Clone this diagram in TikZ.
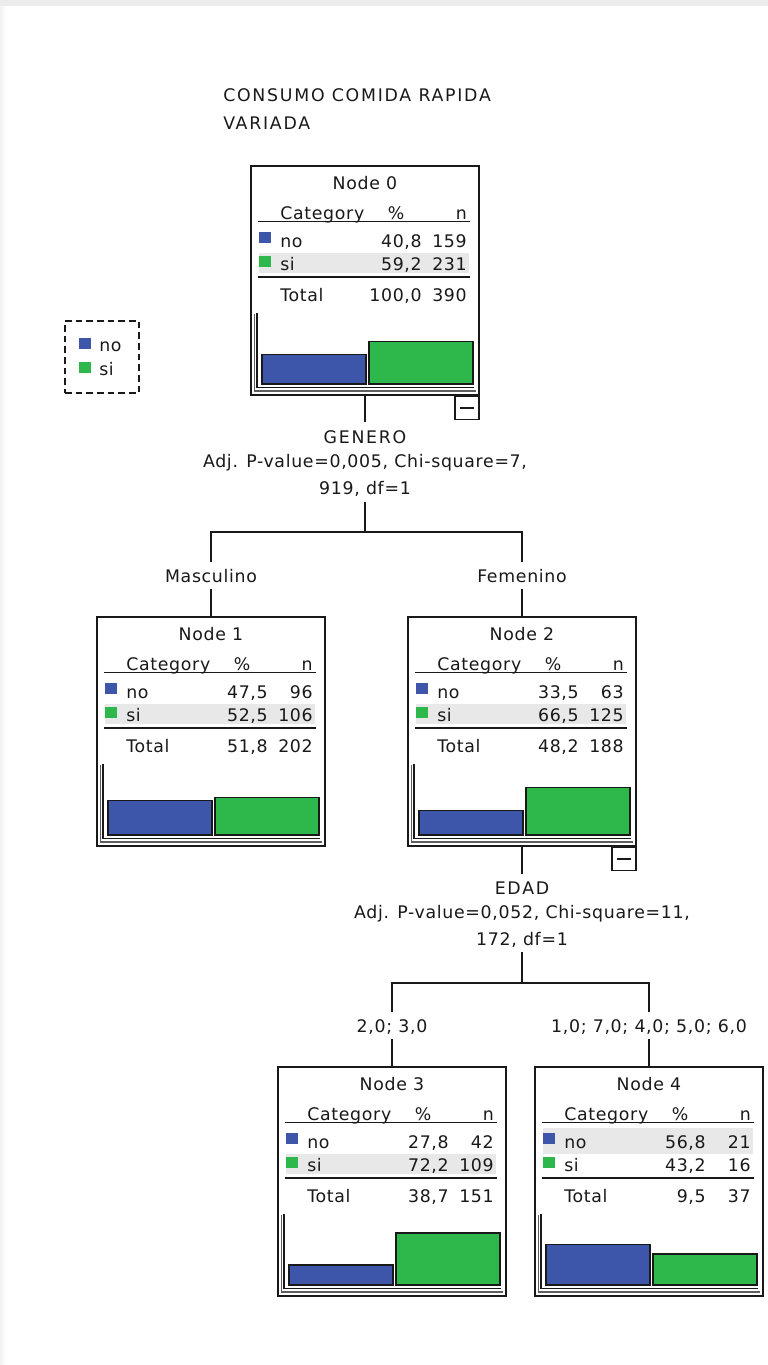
\documentclass[tikz,border=0pt]{standalone}
\usepackage{fontspec}
\newfontfamily\uifont[LetterSpace=4]{DejaVu Sans}
\newfontfamily\capfont[LetterSpace=10]{DejaVu Sans}
\definecolor{cblue}{RGB}{61,86,170}
\definecolor{cgreen}{RGB}{46,184,76}
\definecolor{hlgray}{RGB}{232,232,232}
\definecolor{ink}{RGB}{25,25,25}
\pgfkeys{/pgf/number format/.cd, assume math mode=true, fixed, fixed zerofill, precision=1, use comma}
\tikzset{
  txt/.style={inner sep=0pt, text=ink, font=\fontsize{13pt}{18pt}\selectfont\uifont},
  nodebox/.style={draw=ink, line width=1.1pt, minimum width=171pt, minimum height=171.75pt, inner sep=0pt},
  rule/.style={draw=ink, line width=1.1pt},
  conn/.style={draw=ink, line width=1.1pt},
  bar/.style={draw=ink, line width=0.9pt},
  swatch/.style={inner sep=0pt, minimum width=9pt, minimum height=8.25pt},
  minusbox/.style={draw=ink, line width=1.1pt, minimum width=18pt, minimum height=17.25pt, inner sep=0pt},
  lbl/.style={txt, inner ysep=5.25pt, text height=9.5pt, text depth=0pt},
  legendbox/.style={draw=ink, dash pattern=on 5pt off 3pt, line width=0.9pt, minimum width=55.5pt, minimum height=54pt, inner sep=0pt},
}
% #1 name, #2 X,Y, #3 number, #4 pct no, #5 n no, #6 pct si, #7 n si, #8 pct total, #9 highlighted row
\newcommand{\cartnode}[9]{%
\begin{scope}[shift={(#2)}]
  \ifnum#9=1\relax
    \fill[hlgray] (8,61) rectangle (218,87);
  \else
    \fill[hlgray] (8,87) rectangle (218,107);
  \fi
  \node[nodebox] (#1) at (114,114.5) {};
  \node[txt, anchor=base] (#1t) at (114,23) {Node #3};
  \node[txt, anchor=base west] (#1ha) at (29,53) {Category};
  \node[txt, anchor=base] (#1hb) at (145,53) {\%};
  \node[txt, anchor=base east] (#1hc) at (216,53) {n};
  \draw[rule] (7,55.5) -- (219,55.5);
  \node[swatch, fill=cblue] (#1sa) at (14,71.5) {};
  \node[swatch, fill=cgreen] (#1sb) at (14,95.5) {};
  \node[txt, anchor=base west] (#1la) at (29,81) {no};
  \node[txt, anchor=base west] (#1lb) at (29,104) {si};
  \node[txt, anchor=base east] (#1pa) at (171,81) {\pgfmathprintnumber{#4}};
  \node[txt, anchor=base east] (#1pb) at (171,104) {\pgfmathprintnumber{#6}};
  \node[txt, anchor=base east] (#1na) at (216,81) {#5};
  \node[txt, anchor=base east] (#1nb) at (216,104) {#7};
  \draw[rule] (7,111) -- (219,111);
  \pgfmathtruncatemacro\ntot{#5+#7}
  \node[txt, anchor=base west] (#1lt) at (29,135.5) {Total};
  \node[txt, anchor=base east] (#1pt) at (171,135.5) {\pgfmathprintnumber{#8}};
  \node[txt, anchor=base east] (#1nt) at (216,135.5) {\ntot};
  \draw[bar, fill=cblue] (11,{218-0.72*#4}) rectangle (115,218);
  \draw[bar, fill=cgreen] (118,{218-0.72*#6}) rectangle (222,218);
  \draw[ink, line width=0.9pt] (6,147) -- (6,221.5) -- (223,221.5);
  \draw[ink!70, line width=0.8pt] (3.5,148) -- (3.5,225) -- (225,225);
\end{scope}}

\begin{document}
\begin{tikzpicture}[x=0.75pt,y=-0.75pt]
\useasboundingbox (0,0) rectangle (768,1365);
\fill[gray!15] (0,0) rectangle (768,1365);
\shade[left color=gray!10, right color=white] (0,6) rectangle (6,1365);
\fill[white] (6,6) rectangle (768,1365);

% title
\node[txt, anchor=north west, align=left, font=\fontsize{13pt}{21pt}\selectfont\capfont] (title) at (223,88.4) {CONSUMO COMIDA RAPIDA\\VARIADA};

% legend
\node[legendbox] (legend) at (102,357) {};
\node[swatch, fill=cblue] (lgsa) at (85,343.5) {};
\node[swatch, fill=cgreen] (lgsb) at (85,367) {};
\node[txt, anchor=base west] (lgla) at (99,351) {no};
\node[txt, anchor=base west] (lglb) at (99,375) {si};

% tree nodes
\cartnode{n0}{251,166}{0}{40.8}{159}{59.2}{231}{100.0}{2}
\cartnode{n1}{97,617}{1}{47.5}{96}{52.5}{106}{51.8}{2}
\cartnode{n2}{408,617}{2}{33.5}{63}{66.5}{125}{48.2}{2}
\cartnode{n3}{278,1067}{3}{27.8}{42}{72.2}{109}{38.7}{2}
\cartnode{n4}{535,1067}{4}{56.8}{21}{43.2}{16}{9.5}{1}

% collapse boxes
\node[minusbox, anchor=north east] (m0) at (n0.south east) {};
\draw[rule] ([xshift=-5.25pt]m0.center) -- ([xshift=5.25pt]m0.center);
\node[minusbox, anchor=north east] (m2) at (n2.south east) {};
\draw[rule] ([xshift=-5.25pt]m2.center) -- ([xshift=5.25pt]m2.center);

% first split
\node[txt, anchor=north, align=center] (s0) at (365,430.4) {{\capfont GENERO}\\Adj. P-value=0,005, Chi-square=7,\\[2.25pt]919, df=1};
\coordinate (g0) at (365,422);
\coordinate (g0b) at (365,502);
\coordinate (j0) at (365,532);
\draw[conn] (n0.south) -- (g0);
\draw[conn] (g0b) -- (j0);
\node[lbl, anchor=base] (lab1) at (211,582) {Masculino};
\node[lbl, anchor=base] (lab2) at (522,582) {Femenino};
\draw[conn] (lab1.north) -- (lab1.north |- j0) -- (lab2.north |- j0) -- (lab2.north);
\draw[conn] (lab1.south) -- (n1.north);
\draw[conn] (lab2.south) -- (n2.north);

% second split
\node[txt, anchor=north, align=center] (s2) at (522,881.4) {{\capfont EDAD}\\Adj. P-value=0,052, Chi-square=11,\\[2.25pt]172, df=1};
\coordinate (g2) at (522,874);
\coordinate (g2b) at (522,952);
\coordinate (j2) at (522,983);
\draw[conn] (n2.south) -- (g2);
\draw[conn] (g2b) -- (j2);
\node[lbl, anchor=base] (lab3) at (392,1032) {2,0; 3,0};
\node[lbl, anchor=base] (lab4) at (649,1032) {1,0; 7,0; 4,0; 5,0; 6,0};
\draw[conn] (lab3.north) -- (lab3.north |- j2) -- (lab4.north |- j2) -- (lab4.north);
\draw[conn] (lab3.south) -- (n3.north);
\draw[conn] (lab4.south) -- (n4.north);
\end{tikzpicture}
\end{document}
